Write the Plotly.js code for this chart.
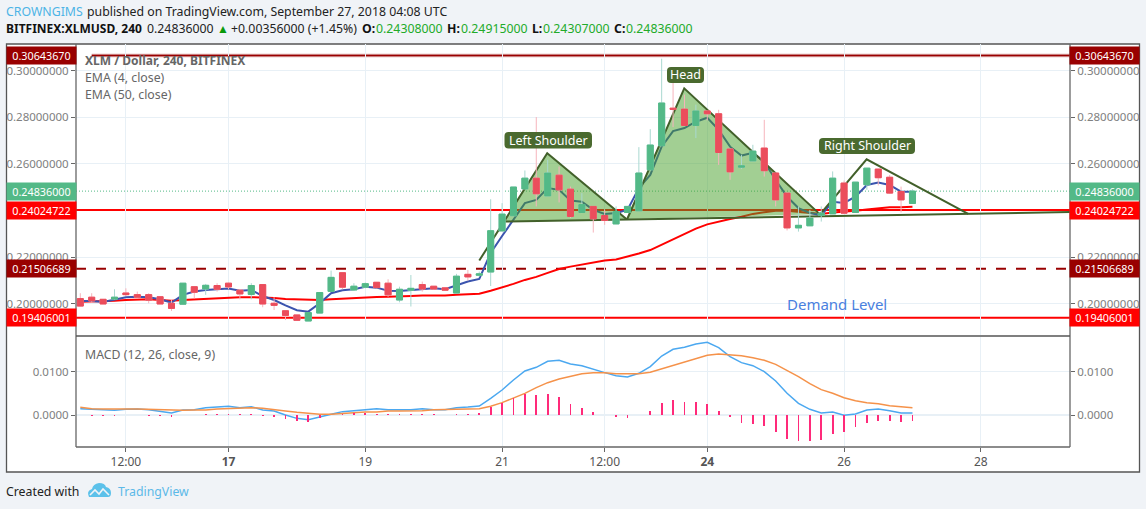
<!DOCTYPE html>
<html>
<head>
<meta charset="utf-8">
<script src="https://cdn.plot.ly/plotly-3.0.1.min.js"></script>
<style>html,body{margin:0;padding:0;background:#f0f3f7;overflow:hidden}#c{width:1146px;height:509px}</style>
</head>
<body>
<div id="c"></div>
<script>
const open_ = [.2023,.2029,.2020,.2021,.2047,.2040,.2040,.2031,.2003,.1999,
.2074,.2064,.2079,.2089,.2059,.2041,.2083,.2003,.1971,.1953,
.1927,.1961,.2054,.2134,.2060,.2072,.2093,.2089,.2017,.2059,
.2083,.2076,.2069,.2047,.2127,.2123,.2137,.2313,.2378,.2493,
.2539,.2463,.2552,.2492,.2392,.2418,.2379,.2343,.2392,.2399,
.2575,.2678,.2839,.2835,.2765,.2827,.2815,.2664,.2586,.2613,
.2668,.2561,.2475,.2326,.2335,.2380,.2386,.2518,.2392,.2511,
.2578,.2543,.2482,.24308];
const high = [.2046,.2046,.2020,.2063,.2067,.2053,.2046,.2031,.2017,.2089,
.2074,.2086,.2089,.2092,.2063,.2089,.2083,.2029,.1971,.1953,
.1963,.2049,.2143,.2134,.2089,.2092,.2093,.2106,.2074,.2124,
.2096,.2076,.2069,.2129,.2146,.2139,.2449,.2432,.2501,.2572,
.2801,.2618,.2589,.2503,.2475,.2418,.2403,.2418,.2418,.2672,
.2749,.3051,.3004,.2897,.2854,.2827,.2832,.2664,.2639,.2682,
.2789,.2561,.2475,.2418,.2403,.2418,.2568,.2529,.2522,.2582,
.2578,.2553,.2503,.24915];
const low = [.1991,.2007,.2000,.2017,.2034,.2024,.2003,.2000,.1970,.1999,
.2024,.2039,.2053,.2063,.2020,.2020,.1986,.1974,.1931,.1930,
.1927,.1961,.2054,.2063,.2056,.2067,.2067,.2031,.2007,.1989,
.2053,.2061,.2059,.2047,.2100,.2117,.2077,.2313,.2378,.2493,
.2418,.2463,.2435,.2368,.2389,.2306,.2339,.2343,.2392,.2399,
.2575,.2678,.2758,.2765,.2711,.2787,.2596,.2532,.2578,.2613,
.2546,.2418,.2315,.2310,.2335,.2353,.2386,.2386,.2392,.2489,
.2508,.2472,.2392,.24307];
const close_ = [.1991,.2013,.2000,.2029,.2040,.2029,.2016,.2000,.1981,.2089,
.2050,.2080,.2063,.2073,.2043,.2079,.2000,.1994,.1951,.1930,
.1963,.2049,.2114,.2072,.2076,.2087,.2070,.2039,.2063,.2067,
.2064,.2064,.2059,.2119,.2116,.2129,.2314,.2385,.2501,.2539,
.2472,.2561,.2489,.2375,.2426,.2365,.2358,.2396,.2418,.2561,
.2681,.2861,.2834,.2765,.2827,.2815,.2649,.2566,.2592,.2655,
.2571,.2446,.2326,.2337,.2368,.2389,.2539,.2389,.2522,.2582,
.2541,.2475,.2446,.24836];
const ema4 = [.2013,.2013,.2009,.2020,.2029,.2031,.2029,.2020,.2006,.2039,
.2053,.2060,.2064,.2066,.2057,.2060,.2034,.2017,.1994,.1973,
.1967,.2003,.2046,.2059,.2063,.2074,.2070,.2057,.2056,.2060,
.2066,.2067,.2063,.2079,.2096,.2107,.2219,.2291,.2360,.2432,
.2446,.2497,.2489,.2443,.2438,.2403,.2386,.2390,.2403,.2497,
.2553,.2674,.2741,.2754,.2781,.2798,.2746,.2674,.2636,.2648,
.2610,.2531,.2460,.2411,.2390,.2381,.2438,.2433,.2460,.2510,
.2520,.2510,.2481,.2481];
const ema50 = [.2010,.2011,.2011,.2014,.2017,.2020,.2020,.2017,.2014,.2017,
.2020,.2023,.2024,.2027,.2029,.2029,.2029,.2026,.2021,.2019,
.2017,.2017,.2020,.2023,.2026,.2029,.2030,.2031,.2031,.2034,
.2036,.2036,.2036,.2040,.2043,.2044,.2057,.2070,.2086,.2103,
.2116,.2133,.2150,.2160,.2169,.2177,.2186,.2191,.2203,.2216,
.2231,.2254,.2277,.2300,.2323,.2341,.2354,.2364,.2374,.2386,
.2393,.2399,.2399,.2394,.2390,.2386,.2392,.2395,.2399,.2405,
.2409,.2414,.2414,.2417];
const macd = [.00147,.00140,.00116,.00109,.00132,.00140,.00124,.00093,.00047,.00116,
.00124,.00171,.00178,.00202,.00171,.00194,.00116,.00093,0,-.00078,
-.00109,-.00039,.00016,.00078,.00093,.00124,.00147,.00124,.00124,.00124,
.00147,.00124,.00124,.00171,.00186,.00209,.00388,.00581,.00814,.01023,
.01109,.01248,.01271,.01186,.01147,.01062,.00985,.00915,.00884,.00969,
.01124,.01372,.01527,.01574,.01651,.01690,.01566,.01357,.01217,.01147,
.01008,.00791,.00504,.00271,.00132,.00047,.00070,-.00008,.00023,.00116,
.00140,.00101,.00047,.00047];
const signal = [.00178,.00147,.00140,.00132,.00140,.00140,.00132,.00116,.00109,.00109,
.00116,.00116,.00140,.00147,.00147,.00171,.00155,.00132,.00093,.00062,
.00031,.00016,.00016,.00039,.00062,.00070,.00070,.00093,.00093,.00093,
.00101,.00124,.00124,.00132,.00140,.00147,.00202,.00287,.00388,.00504,
.00636,.00752,.00837,.00907,.00961,.00985,.00985,.00961,.00954,.00961,
.00992,.01070,.01155,.01240,.01318,.01388,.01419,.01403,.01380,.01333,
.01271,.01178,.01039,.00891,.00729,.00589,.00504,.00403,.00333,.00287,
.00264,.00217,.00194,.00171];
const hist = [0,-.00023,-.00023,-.00023,0,0,-.00023,-.00023,-.00054,0,
0,.00023,.00023,.00031,.00023,.00023,-.00016,-.00039,-.00101,-.00147,
-.00155,-.00070,0,.00016,.00039,.00054,.00031,.00016,.00016,.00016,
.00016,.00016,0,.00031,.00031,.00047,.00194,.00271,.00388,.00496,
.00457,.00481,.00411,.00248,.00171,.00062,0,-.00047,-.00078,0,
.00101,.00287,.00357,.00310,.00310,.00264,.00101,-.00047,-.00178,-.00202,
-.00264,-.00388,-.00550,-.00612,-.00612,-.00574,-.00434,-.00403,-.00287,-.00178,
-.00132,-.00132,-.00155,-.00132];
const xIndex = open_.map((_, i) => i);

const tickIdx = [4, 13, 25, 37, 46, 55, 67, 79];
const tickText = ['12:00', '<b>17</b>', '19', '21', '12:00', '<b>24</b>', '26', '28'];
const priceTicks = [0.20, 0.22, 0.26, 0.28, 0.30];
const priceTickText = ['0.20000000', '0.22000000', '0.26000000', '0.28000000', '0.30000000'];
const macdTicks = [0, 0.01];

const levelTop = 0.30643670, levelMid = 0.24024722, levelDash = 0.21506689, levelLow = 0.19406001, lastPrice = 0.24836000;

const leftX = [35, 40.96, 47.93], leftY = [.2186, .2646, .2363];
const leftFillX = [37.16, 40.96, 47.93], leftFillY = [.2353, .2646, .2363];
const headX = [47.98, 52.98, 64.89], headY = [.2364, .2924, .2384];
const rightX = [64.89, 68.98, 77.89], rightY = [.2384, .2620, .2386];
const neckX = [37.16, 86.82], neckY = [.2353, .2394];

const FONT = '"Noto Sans", sans-serif';
const px = x => (x - 76) / 994, py = y => 1 - (y - 44) / 403;
const P = (x, y) => px(x).toFixed(5) + ',' + py(y).toFixed(5);
function rr(x0, y0, x1, y1, r) {
  return 'M' + P(x0 + r, y0) + ' L' + P(x1 - r, y0) + ' Q' + P(x1, y0) + ' ' + P(x1, y0 + r) +
    ' L' + P(x1, y1 - r) + ' Q' + P(x1, y1) + ' ' + P(x1 - r, y1) +
    ' L' + P(x0 + r, y1) + ' Q' + P(x0, y1) + ' ' + P(x0, y1 - r) +
    ' L' + P(x0, y0 + r) + ' Q' + P(x0, y0) + ' ' + P(x0 + r, y0) + ' Z';
}
const pl = (x0, y0, x1, y1, c, w) => ({type: 'line', xref: 'paper', yref: 'paper', x0: px(x0), x1: px(x1), y0: py(y0), y1: py(y1), line: {color: c, width: w || 1}, layer: 'above'});
const hl = (v, x0, c, w, dash) => ({type: 'line', xref: 'x', yref: 'y', x0: x0, x1: 86.82, y0: v, y1: v, line: {color: c, width: w, dash: dash || 'solid'}, layer: 'below'});

const shapes = [
  {type: 'rect', xref: 'paper', yref: 'paper', x0: px(6.5), x1: px(1139.5), y0: py(472), y1: py(44), fillcolor: '#ffffff', line: {color: '#555555', width: 1.3}, layer: 'below'},
  pl(76, 44, 76, 447, '#666666', 1.3),
  pl(1070, 44, 1070, 447, '#666666', 1.3),
  pl(76, 336, 1070, 336, '#555555', 1.3),
  pl(76, 447, 1070, 447, '#666666', 1.3),
  hl(levelTop, 1, 'rgba(153,0,0,0.35)', 3.5),
  hl(levelTop, 1, '#990000', 1.5),
  hl(levelMid, -0.377, '#ff0000', 2),
  hl(levelDash, -0.377, '#990000', 2, '10px,10px'),
  hl(levelLow, -0.377, '#ff0000', 2),
  hl(lastPrice, -0.377, '#53b987', 1, '1px,2px'),
  {type: 'path', xref: 'paper', yref: 'paper', path: rr(504.5, 132, 592, 148.5, 4), fillcolor: '#4a6a2f', line: {width: 0}, layer: 'above'},
  {type: 'path', xref: 'paper', yref: 'paper', path: rr(667, 67, 704, 83, 4), fillcolor: '#4a6a2f', line: {width: 0}, layer: 'above'},
  {type: 'path', xref: 'paper', yref: 'paper', path: rr(819, 138, 915, 154, 4), fillcolor: '#4a6a2f', line: {width: 0}, layer: 'above'},
  {type: 'path', xref: 'paper', yref: 'paper', path: 'M' + P(89, 497) + ' Q' + P(86, 491) + ' ' + P(92, 489) + ' Q' + P(93, 484) + ' ' + P(99, 483) + ' Q' + P(105, 483) + ' ' + P(106, 487) + ' Q' + P(111, 488) + ' ' + P(111, 493) + ' Q' + P(111, 497) + ' ' + P(108, 497) + ' Z', fillcolor: '#5cc1ea', line: {width: 0}, layer: 'above'},
  {type: 'path', xref: 'paper', yref: 'paper', path: 'M' + P(90, 495) + ' L' + P(95, 490) + ' L' + P(99, 494) + ' L' + P(103, 489) + ' L' + P(109, 495), line: {color: '#f0f3f7', width: 1.6}, layer: 'above'}
];

function txt(x, y, text, o) {
  o = o || {};
  return {xref: 'paper', yref: 'paper', x: px(x), y: py(y), text: text, showarrow: false, xanchor: o.anchor || 'left', yanchor: 'middle',
    font: {family: FONT, size: o.size || 12.3, color: o.color || '#000000'}, borderpad: 0, borderwidth: 0};
}
function tag(side, v, text, bg, ax) {
  return {xref: 'paper', yref: ax || 'y', x: px(side === 'l' ? 41.5 : 1104.7), y: v, text: text, showarrow: false, xanchor: 'center', yanchor: 'middle',
    width: 69, height: 17, bgcolor: bg, borderpad: 0, font: {family: FONT, size: 10.8, color: '#ffffff'}};
}
const GREEN = '#22ab29';
const annotations = [
  txt(6, 11, 'CROWNGIMS', {color: '#4db4e6'}),
  txt(87, 11, 'published on TradingView.com, September 27, 2018 04:08 UTC', {color: '#222222'}),
  txt(6, 29, '<b>BITFINEX:XLMUSD, 240</b>', {color: '#111111', size: 12}),
  txt(147, 29, '0.24836000', {color: '#222222'}),
  txt(217, 29, '▲', {color: '#0a9a0a', size: 12}),
  txt(231, 29, '+0.00356000 (+1.45%)', {color: '#222222'}),
  txt(362, 29, '<b>O:</b>', {color: '#111111'}),
  txt(376, 29, '0.24308000', {color: GREEN}),
  txt(447, 29, '<b>H:</b>', {color: '#111111'}),
  txt(461, 29, '0.24915000', {color: GREEN}),
  txt(532, 29, '<b>L:</b>', {color: '#111111'}),
  txt(543, 29, '0.24307000', {color: GREEN}),
  txt(614, 29, '<b>C:</b>', {color: '#111111'}),
  txt(626, 29, '0.24836000', {color: GREEN}),
  txt(85, 61, '<b>XLM / Dollar, 240, BITFINEX</b>', {color: '#666666', size: 12}),
  txt(85, 77, 'EMA (4, close)', {color: '#666666'}),
  txt(85, 94, 'EMA (50, close)', {color: '#666666'}),
  txt(85, 354, 'MACD (12, 26, close, 9)', {color: '#666666'}),
  txt(837, 303.5, 'Demand Level', {color: '#4a80e0', size: 15, anchor: 'center'}),
  txt(548.3, 140.3, 'Left Shoulder', {color: '#ffffff', anchor: 'center', size: 12.5}),
  txt(685.5, 75, 'Head', {color: '#ffffff', anchor: 'center', size: 12.5}),
  txt(867, 146, 'Right Shoulder', {color: '#ffffff', anchor: 'center', size: 12.5}),
  txt(6, 491.5, 'Created with', {color: '#222222'}),
  txt(118, 491.5, 'TradingView', {color: '#5cb9e8'}),
  tag('l', levelLow, '0.19406001', '#ff0000'), tag('r', levelLow, '0.19406001', '#ff0000'),
  tag('l', levelDash, '0.21506689', '#990000'), tag('r', levelDash, '0.21506689', '#990000'),
  tag('l', levelMid, '0.24024722', '#ff0000'), tag('r', levelMid, '0.24024722', '#ff0000'),
  tag('l', lastPrice, '0.24836000', '#53b987'), tag('r', lastPrice, '0.24836000', '#53b987'),
  tag('l', levelTop, '0.30643670', '#990000'), tag('r', levelTop, '0.30643670', '#990000')
];

const lineT = (x, y, color, width, axis) => ({type: 'scatter', mode: 'lines', x: x, y: y, line: {color: color, width: width}, xaxis: 'x', yaxis: axis, hoverinfo: 'skip', showlegend: false});
const fillT = (x, y) => ({type: 'scatter', mode: 'lines', x: x, y: y, fill: 'toself', fillcolor: 'rgba(70,160,40,0.5)', line: {width: 0, color: 'rgba(0,0,0,0)'}, xaxis: 'x', yaxis: 'y', hoverinfo: 'skip', showlegend: false});
const OLIVE = '#42602a';
const traces = [
  lineT(xIndex, ema50, '#ff0000', 2, 'y'),
  lineT(xIndex, ema4, '#3b54ae', 2, 'y'),
  fillT(leftFillX, leftFillY),
  fillT(headX, headY),
  lineT(leftX, leftY, OLIVE, 2, 'y'),
  lineT(headX, headY, OLIVE, 2, 'y'),
  lineT(rightX, rightY, OLIVE, 2, 'y'),
  lineT(neckX, neckY, OLIVE, 2, 'y'),
  {type: 'candlestick', x: xIndex, open: open_, high: high, low: low, close: close_, xaxis: 'x', yaxis: 'y3', hoverinfo: 'skip', showlegend: false,
    increasing: {line: {color: '#a9d8d0', width: 1}, fillcolor: '#a9d8d0'},
    decreasing: {line: {color: '#f6b4bc', width: 1}, fillcolor: '#f6b4bc'}},
  {type: 'candlestick', x: xIndex, open: open_, close: close_,
    high: open_.map((o, i) => Math.max(o, close_[i])), low: open_.map((o, i) => Math.min(o, close_[i])), xaxis: 'x', yaxis: 'y3', hoverinfo: 'skip', showlegend: false,
    increasing: {line: {color: '#53b987', width: 1}, fillcolor: '#53b987'},
    decreasing: {line: {color: '#eb4d5c', width: 1}, fillcolor: '#eb4d5c'}},
  lineT(xIndex, macd, '#4ba8f0', 1.5, 'y2'),
  lineT(xIndex, signal, '#f5924a', 1.5, 'y2'),
  {type: 'bar', x: xIndex, y: hist, width: 0.16, marker: {color: '#ff2a7a', line: {width: 0}}, xaxis: 'x', yaxis: 'y4', hoverinfo: 'skip', showlegend: false}
];

const GRID = '#e8f0f6', TICKC = '#666666', TICKF = {family: FONT, size: 11.5, color: '#808080'};
const yMainRange = [0.1867, 0.3114], yMacdRange = [-0.00744, 0.01814];
const yBase = {ticks: 'outside', ticklen: 4, tickcolor: TICKC, tickwidth: 1, tickfont: TICKF, showline: false, zeroline: false, fixedrange: true};
const layout = {
  width: 1146, height: 509,
  margin: {l: 76, r: 76, t: 44, b: 62, pad: 0},
  paper_bgcolor: '#f0f3f7', plot_bgcolor: '#ffffff',
  showlegend: false, boxmode: 'overlay', boxgap: 0.47, boxgroupgap: 0, bargap: 0,
  xaxis: {type: 'linear', range: [-0.377, 86.82], anchor: 'y2', tickmode: 'array', tickvals: tickIdx, ticktext: tickText, ticks: 'outside', ticklen: 4, tickcolor: TICKC,
    tickfont: {family: FONT, size: 12, color: '#555555'}, showgrid: true, gridcolor: GRID, gridwidth: 1, zeroline: false, showline: false, rangeslider: {visible: false}, fixedrange: true},
  yaxis: Object.assign({}, yBase, {domain: [0.2779, 1], range: yMainRange, tickmode: 'array', tickvals: priceTicks, ticktext: priceTickText, showgrid: true, gridcolor: GRID, side: 'left', anchor: 'x'}),
  yaxis3: Object.assign({}, yBase, {overlaying: 'y', range: yMainRange, tickmode: 'array', tickvals: priceTicks, ticktext: priceTickText, showgrid: false, side: 'right', anchor: 'x'}),
  yaxis2: Object.assign({}, yBase, {domain: [0, 0.273], range: yMacdRange, tickmode: 'array', tickvals: macdTicks, ticktext: ['0.0000', '0.0100'], showgrid: true, gridcolor: GRID, side: 'left', anchor: 'x', zeroline: true, zerolinecolor: GRID, zerolinewidth: 2.5}),
  yaxis4: Object.assign({}, yBase, {overlaying: 'y2', range: yMacdRange, tickmode: 'array', tickvals: macdTicks, ticktext: ['0.0000', '0.0100'], showgrid: false, side: 'right', anchor: 'x'}),
  shapes: shapes,
  annotations: annotations
};
Plotly.newPlot('c', traces, layout, {displayModeBar: false, staticPlot: true});
</script>
</body>
</html>
